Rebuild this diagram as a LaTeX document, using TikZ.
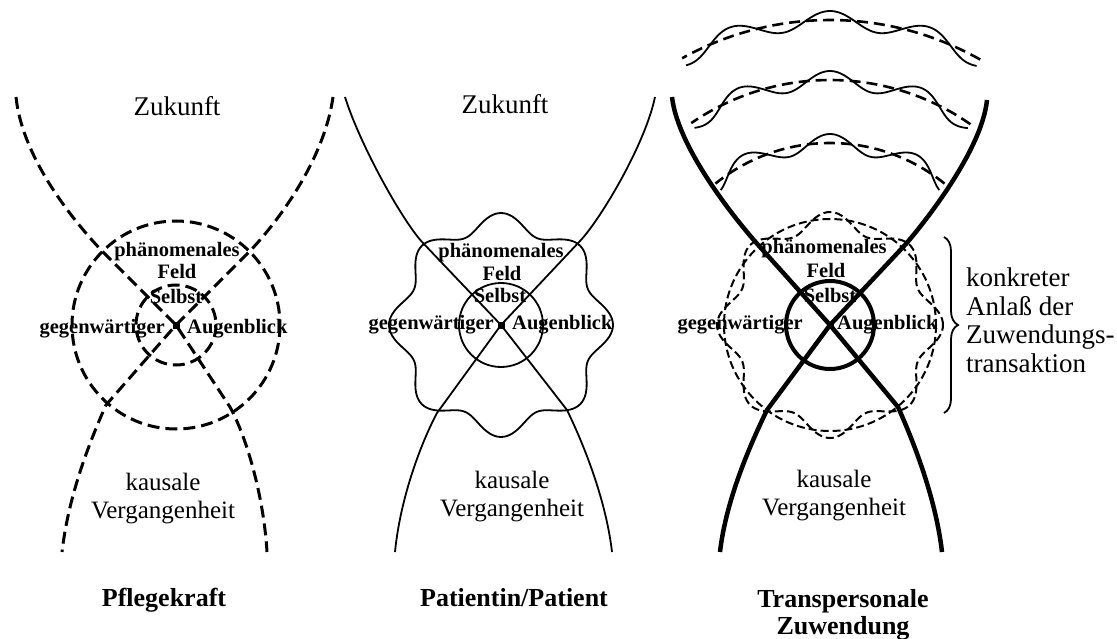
\documentclass[tikz,border=0pt]{standalone}
\usepackage{fontspec}
\setmainfont{Liberation Serif}
\usetikzlibrary{decorations.pathreplacing}

\begin{document}
\begin{tikzpicture}[x=1pt,y=-1pt,
  big/.style={font=\fontsize{27}{28.5}\selectfont, inner sep=0},
  mid/.style={font=\fontsize{25}{28}\selectfont, align=center, inner sep=0},
  small/.style={font=\bfseries\fontsize{20.5}{22}\selectfont, inner sep=0},
  title/.style={font=\bfseries\fontsize{26}{27}\selectfont, align=center, inner sep=0},
  sq/.style={fill, inner sep=0, minimum size=7pt},
  pfdash/.style={line width=3pt, dash pattern=on 12pt off 6pt},
  thinline/.style={line width=1.8pt},
  heavy/.style={line width=4.5pt},
  finedash/.style={line width=2pt, dash pattern=on 8pt off 4pt},
  banddash/.style={line width=2.6pt, dash pattern=on 11pt off 6pt},
  wave/.style={line width=1.8pt}]

\useasboundingbox (0,0) rectangle (1117,639);

% Pflegekraft
\node[sq] (c1) at (176,325) {};
\draw[pfdash] (c1.center) circle[radius=104];
\draw[pfdash] (c1.center) circle[radius=40];
\draw[pfdash] (16,97) .. controls (22,155) and (68,215) .. (102,251) -- (c1.center) -- (230,407) .. controls (248,440) and (264,500) .. (267,552);
\draw[pfdash] (333,97) .. controls (325,155) and (284,215) .. (250,251) -- (c1.center) -- (106,405) .. controls (86,450) and (68,500) .. (62,552);
\node[big, anchor=base] (zuk1) at (177,116) {Zukunft};
\node[small, anchor=base] (ph1) at (177,257) {phänomenales};
\node[small, anchor=base] (feld1) at (177,279) {Feld};
\node[small, anchor=base] (selbst1) at (176,304) {Selbst};
\node[small, anchor=base east] (gegen1) at (165,333) {gegenwärtiger};
\node[small, anchor=base west] (augen1) at (187,333) {Augenblick};
\node[mid, anchor=north] (kaus1) at (163,473) {kausale\\Vergangenheit};
\node[title, anchor=base] (pflege) at (164,606) {Pflegekraft};

% Patientin/Patient
\node[sq] (c2) at (501,325) {};
\draw[thinline] plot[domain=0:360, samples=241, smooth] ({501+(103+9*cos(8*\x))*cos(\x)}, {325-(103+9*cos(8*\x))*sin(\x)}) -- cycle;
\draw[thinline] (c2.center) circle[radius=42];
\draw[thinline] (345,97) .. controls (360,145) and (403,222) .. (423,243) -- (c2.center) -- (567,410) .. controls (584,445) and (606,500) .. (612,552);
\draw[thinline] (655,97) .. controls (645,145) and (600,220) .. (580,241) -- (c2.center) -- (437,413) .. controls (420,445) and (400,500) .. (395,552);
\node[big, anchor=base] (zuk2) at (505,114) {Zukunft};
\node[small, anchor=base] (ph2) at (501,258) {phänomenales};
\node[small, anchor=base] (feld2) at (502,280) {Feld};
\node[small, anchor=base] (selbst2) at (500,302) {Selbst};
\node[small, anchor=base east] (gegen2) at (494,330) {gegenwärtiger};
\node[small, anchor=base west] (augen2) at (512,330) {Augenblick};
\node[mid, anchor=north] (kaus2) at (512,471) {kausale\\Vergangenheit};
\node[title, anchor=base] (patient) at (514,606) {Patientin/Patient};

% Transpersonale Zuwendung
\node[sq] (c3) at (830,325) {};
\draw[finedash] (c3.center) circle[radius=106];
\draw[finedash] plot[domain=0:360, samples=241, smooth] ({830+(104+9*cos(8*\x))*cos(\x)}, {325-(104+9*cos(8*\x))*sin(\x)}) -- cycle;
\foreach \rr/\nn/\lo/\hi in {305/19.5/60.5/119, 245/17.1/55/124.5, 182/13.3/51/129} {
  \draw[banddash] plot[domain=\lo:\hi, samples=60] ({830+\rr*cos(\x)}, {325-\rr*sin(\x)});
  \draw[wave] plot[domain=\lo:\hi, samples=150, smooth] ({830+(\rr+9*cos(\nn*(\x-90)))*cos(\x)}, {325-(\rr+9*cos(\nn*(\x-90)))*sin(\x)});
}
\draw[line width=4pt] (c3.center) circle[radius=44];
\draw[heavy] (672,97) .. controls (678,150) and (740,225) .. (760,247) -- (c3.center) -- (898,407) .. controls (915,445) and (936,500) .. (942,552);
\draw[heavy] (987,100) .. controls (982,150) and (925,222) .. (905,245) -- (c3.center) -- (767,410) .. controls (750,445) and (726,500) .. (720,552);
\node[small, anchor=base] (ph3) at (824,254) {phänomenales};
\node[small, anchor=base] (feld3) at (826,277) {Feld};
\node[small, anchor=base] (selbst3) at (830,302) {Selbst};
\node[small, anchor=base east] (gegen3) at (803,330) {gegenwärtiger};
\node[small, anchor=base west] (augen3) at (837,330) {Augenblick};
\node[mid, anchor=north] (kaus3) at (834,470) {kausale\\Vergangenheit};
\node[title, anchor=north] (transp) at (843,589) {Transpersonale\\Zuwendung};

% Anlass
\coordinate (btop) at (944,237);
\coordinate (bbot) at (944,413);
\draw[line width=1.8pt, decorate, decoration={brace, amplitude=14pt}] (btop) -- (bbot);
\node[big, anchor=north west, align=left] (anlass) at (966,268) {konkreter\\Anlaß der\\Zuwendungs-\\transaktion};

\end{tikzpicture}
\end{document}
